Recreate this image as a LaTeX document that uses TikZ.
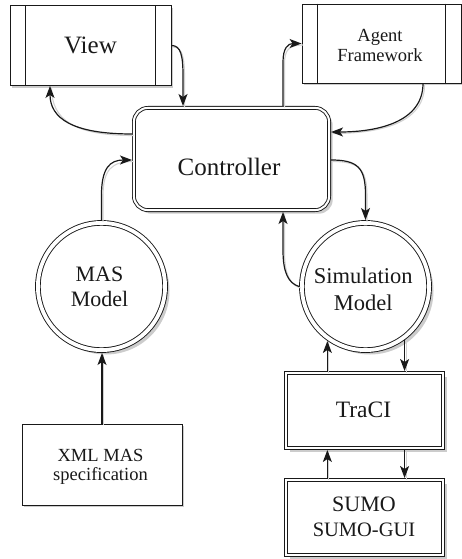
\documentclass[tikz,border=0pt]{standalone}
\usepackage{fontspec}
\setmainfont{Liberation Serif}
\newfontfamily\labelface{Liberation Serif}
\usetikzlibrary{arrows.meta,shadows,calc}

\newcommand\fsz[1]{\labelface\fontsize{#1}{#1}\selectfont}

\tikzset{
  shade/.style={drop shadow={shadow xshift=#1,shadow yshift=-#1,fill=black!20,opacity=1}},
  outline/.style={draw=black!90, line width=0.9pt, fill=white, inner sep=0pt},
  procbox/.style={outline, rectangle, outer sep=0.45pt, shade=2.1pt},
  dblbox/.style={outline, rectangle, double=white, double distance=2.4pt,
    outer sep=2.1pt, shade=3.8pt},
  ctrlbox/.style={outline, rectangle, rounded corners=14pt, double=white,
    double distance=2pt, outer sep=1.9pt, shade=3.6pt},
  dblcirc/.style={outline, circle, double=white, double distance=3.8pt,
    outer sep=2.9pt, minimum size=127.2pt, shade=4.4pt},
  inner/.style={draw=black!90, line width=0.9pt},
  conn/.style={draw=black!90, line width=1.2pt,
    -{Stealth[length=12pt,width=9pt,inset=3pt]},
    preaction={draw=black!18, line width=1.1pt, -,
      transform canvas={xshift=1.5pt,yshift=-1.5pt}}},
  lbl/.style={inner sep=0pt, anchor=base, text=black!90}
}

\begin{document}
\begin{tikzpicture}[x=1pt,y=-1pt]
\useasboundingbox (0,0) rectangle (462,559);

% shapes
\node[procbox, minimum width=161pt, minimum height=80pt] (view) at (90.5,45.5) {};
\draw[inner] ($(view.north west)+(16,0)$) -- ($(view.south west)+(16,0)$);
\draw[inner] ($(view.north east)+(-16,0)$) -- ($(view.south east)+(-16,0)$);

\node[procbox, minimum width=159pt, minimum height=79pt] (agent) at (381.5,43.5) {};
\draw[inner] ($(agent.north west)+(16,0)$) -- ($(agent.south west)+(16,0)$);
\draw[inner] ($(agent.north east)+(-16,0)$) -- ($(agent.south east)+(-16,0)$);

\node[ctrlbox, minimum width=195.2pt, minimum height=102.2pt] (ctrl) at (231.5,159) {};

\node[dblcirc] (mas) at (101.5,286.5) {};
\node[dblcirc] (sim) at (365.5,286.5) {};

\node[dblbox, minimum width=156.8pt, minimum height=74.8pt] (traci) at (364.5,410.5) {};
\node[dblbox, minimum width=156.8pt, minimum height=74.8pt] (sumo) at (364.5,517.5) {};

\node[procbox, minimum width=160pt, minimum height=81pt] (xml) at (102,464.5) {};

% labels
\node[lbl, font=\fsz{25}] (view-t) at (90.5,53.3) {View};
\node[lbl, font=\fsz{18.5}] (agent-t1) at (380,41.7) {Agent};
\node[lbl, font=\fsz{18.5}] (agent-t2) at (380,61.7) {Framework};
\node[lbl, font=\fsz{25}] (ctrl-t) at (229,175) {Controller};
\node[lbl, font=\fsz{22}] (mas-t1) at (99.5,281) {MAS};
\node[lbl, font=\fsz{22}] (mas-t2) at (99.5,306.7) {Model};
\node[lbl, font=\fsz{22.5}] (sim-t1) at (363.3,283) {Simulation};
\node[lbl, font=\fsz{22.5}] (sim-t2) at (363.3,310) {Model};
\node[lbl, font=\fsz{23.5}] (traci-t) at (363.5,417.3) {TraCI};
\node[lbl, font=\fsz{22}] (sumo-t1) at (364,511.7) {SUMO};
\node[lbl, font=\fsz{20.5}] (sumo-t2) at (364,536.7) {SUMO-GUI};
\node[lbl, font=\fsz{18.5}] (xml-t1) at (100.5,461) {XML MAS};
\node[lbl, font=\fsz{18.5}] (xml-t2) at (100.5,480) {specification};

% connectors
\draw[conn] (view.east) .. controls (181,45.5) and (183,56) .. (183,76)
  -- (183,0 |- ctrl.north);
\draw[conn] (ctrl.west |- 0,134) .. controls (72,134) and (50,118)
  .. (50,0 |- view.south);
\draw[conn] (mas.north) -- (101.5,195) .. controls (101.5,168) and (110,160)
  .. (ctrl.west |- 0,160);
\draw[conn] (xml.north) -- (xml.north |- mas.south);
\draw[conn] (283,0 |- ctrl.north) -- (283,62) .. controls (283,48) and (288,43.5)
  .. (agent.west);
\draw[conn] (423,0 |- agent.south) .. controls (423,122) and (378,132)
  .. (ctrl.east |- 0,132);
\draw[conn] (ctrl.east |- 0,160) .. controls (358,160) and (365.5,168)
  .. (365.5,195) -- (sim.north);
\draw[conn] (sim.west) .. controls (288,283) and (283,272) .. (283,250)
  -- (283,0 |- ctrl.south);
\draw[conn] (traci.north -| sim.-125.4) -- (sim.-125.4);
\draw[conn] (sim.-54.6) -- (sim.-54.6 |- traci.north);
\draw[conn] (sumo.north -| sim.-125.4) -- (traci.south -| sim.-125.4);
\draw[conn] (traci.south -| sim.-54.6) -- (sumo.north -| sim.-54.6);
\end{tikzpicture}
\end{document}
